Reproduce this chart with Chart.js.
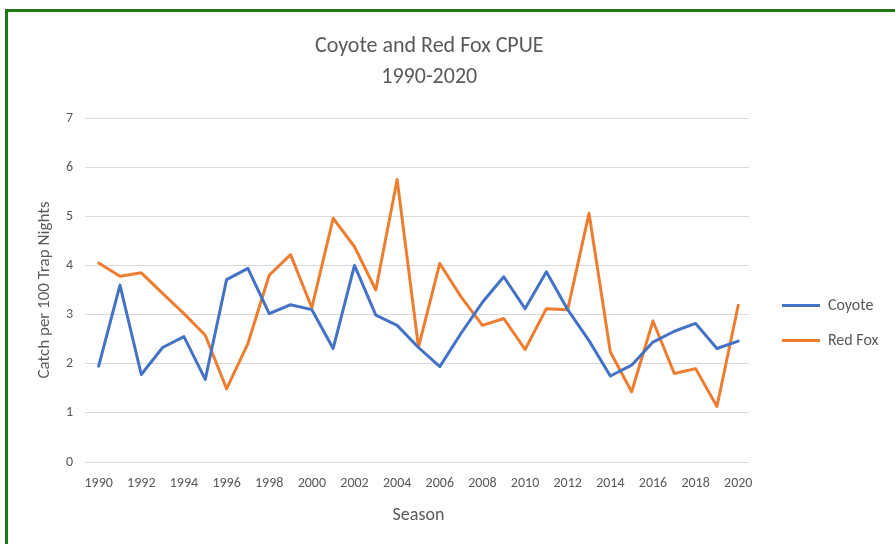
<!DOCTYPE html>
<html>
<head>
<meta charset="utf-8">
<script src="https://cdn.jsdelivr.net/npm/chart.js@4"></script>
<style>
  html, body { margin: 0; padding: 0; background: #fff; overflow: hidden; }
  #frame {
    position: absolute; left: 5px; top: 9px;
    width: 1000px; height: 1000px;
    border: 3px solid #1f7a14;
  }
  #wrap { position: absolute; left: 0; top: 0; width: 895px; height: 544px; }
</style>
</head>
<body>
<div id="frame"></div>
<div id="wrap"><canvas id="cpueChart"></canvas></div>
<script>
const seasons = [1990, 1991, 1992, 1993, 1994, 1995, 1996, 1997, 1998, 1999,
                 2000, 2001, 2002, 2003, 2004, 2005, 2006, 2007, 2008, 2009,
                 2010, 2011, 2012, 2013, 2014, 2015, 2016, 2017, 2018, 2019, 2020];

const coyote = [1.95, 3.60, 1.78, 2.33, 2.55, 1.68, 3.71, 3.94, 3.02, 3.20,
                3.10, 2.31, 4.00, 2.99, 2.78, 2.33, 1.94, 2.62, 3.25, 3.77,
                3.12, 3.87, 3.10, 2.47, 1.75, 1.97, 2.44, 2.66, 2.82, 2.31, 2.46];

const redFox = [4.05, 3.78, 3.85, 3.43, 3.02, 2.58, 1.49, 2.41, 3.80, 4.22,
                3.14, 4.96, 4.38, 3.50, 5.75, 2.34, 4.04, 3.36, 2.78, 2.92,
                2.29, 3.12, 3.10, 5.06, 2.24, 1.43, 2.87, 1.80, 1.90, 1.13, 3.19];

const yTicks = [0, 1, 2, 3, 4, 5, 6, 7];

const textColor = '#595959';
const gridColor = '#d9d9d9';
const fontFamily = "Carlito, Lato, 'Open Sans', sans-serif";

// nudge title and legend into place after Chart.js lays out the boxes
const boxNudge = {
    id: 'boxNudge',
    afterLayout(chart) {
        const t = chart.titleBlock;
        t.left -= 18;
        t.right -= 18;
        const l = chart.legend;
        l.left += 14;
        l.right += 14;
        l.top += 51;
        l.bottom += 51;
    }
};

const ctx = document.getElementById('cpueChart');
new Chart(ctx, {
    type: 'line',
    data: {
        labels: seasons,
        datasets: [
            {
                label: 'Coyote',
                data: coyote,
                borderColor: '#4472c4',
                backgroundColor: '#4472c4',
                borderWidth: 3,
                pointRadius: 0,
                borderJoinStyle: 'round',
                borderCapStyle: 'round',
                tension: 0
            },
            {
                label: 'Red Fox',
                data: redFox,
                borderColor: '#ed7d31',
                backgroundColor: '#ed7d31',
                borderWidth: 3,
                pointRadius: 0,
                borderJoinStyle: 'round',
                borderCapStyle: 'round',
                tension: 0
            }
        ]
    },
    options: {
        responsive: true,
        maintainAspectRatio: false,
        animation: false,
        layout: { padding: { left: 20, right: 20.5, top: 0, bottom: 0 } },
        plugins: {
            title: {
                display: true,
                text: ['Coyote and Red Fox CPUE', '1990-2020'],
                color: textColor,
                font: { family: fontFamily, size: 22, weight: 'normal', lineHeight: 31 / 22 },
                padding: { top: 31, bottom: 25 }
            },
            legend: {
                position: 'right',
                labels: {
                    color: textColor,
                    font: { family: fontFamily, size: 16 },
                    usePointStyle: true,
                    pointStyle: 'line',
                    pointStyleWidth: 38,
                    padding: 19
                }
            },
            tooltip: { enabled: false }
        },
        scales: {
            x: {
                offset: true,
                grid: { display: false, drawTicks: false },
                border: { display: false },
                ticks: {
                    color: textColor,
                    font: { family: fontFamily, size: 14 },
                    autoSkip: false,
                    maxRotation: 0,
                    padding: 13,
                    callback: (v, i) => (i % 2 === 0 ? seasons[i] : '')
                },
                title: {
                    display: true,
                    text: 'Season',
                    color: textColor,
                    font: { family: fontFamily, size: 18 },
                    padding: { top: 4, bottom: 18 }
                },
                afterFit: scale => { scale.height = 82; }
            },
            y: {
                min: 0,
                max: 7,
                grid: { color: gridColor, tickLength: 3, tickColor: gridColor },
                border: { display: false },
                afterBuildTicks: scale => { scale.ticks = yTicks.map(v => ({ value: v })); },
                ticks: {
                    color: textColor,
                    font: { family: fontFamily, size: 14 },
                    padding: 12
                },
                title: {
                    display: true,
                    text: 'Catch per 100 Trap Nights',
                    color: textColor,
                    font: { family: fontFamily, size: 17 },
                    padding: { top: 15, bottom: 0 }
                },
                afterFit: scale => { scale.width = 68; }
            }
        }
    },
    plugins: [boxNudge]
});
</script>
</body>
</html>
